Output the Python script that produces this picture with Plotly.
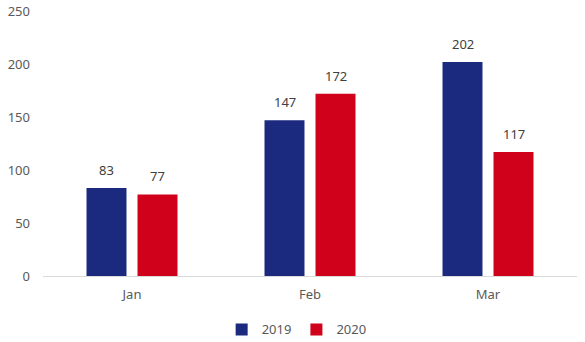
import plotly.graph_objects as go

months = ["Jan", "Feb", "Mar"]
s2019 = [83, 147, 202]
s2020 = [77, 172, 117]
series_names = ["2019", "2020"]
colors = ["#1B2A7E", "#D0021B"]
y_ticks = [0, 50, 100, 150, 200, 250]

fig = go.Figure()
for name, vals, col in zip(series_names, [s2019, s2020], colors):
    fig.add_trace(go.Bar(name=name, x=months, y=vals, marker_color=col,
                         marker_line_width=0))

for vals, xs in [(s2019, -25.5), (s2020, 25.5)]:
    for m, v in zip(months, vals):
        fig.add_annotation(x=m, y=v, text=str(v), showarrow=False,
                           xshift=xs, yshift=18,
                           font=dict(family="Noto Sans, sans-serif", size=13, color="#404040"))

fig.update_layout(
    width=585, height=342,
    margin=dict(l=43, r=8, t=11, b=66, autoexpand=False),
    paper_bgcolor="white", plot_bgcolor="white",
    barmode="group", bargap=0.427, bargroupgap=0.216,
    font=dict(family="Noto Sans, sans-serif", size=13, color="#595959"),
    showlegend=True,
    legend=dict(orientation="h", x=0.475, xanchor="center", y=-0.145, yanchor="top",
                font=dict(size=13, color="#595959"), itemwidth=30, traceorder="normal"),
    xaxis=dict(showgrid=False, showline=True, linecolor="#D9D9D9", linewidth=1,
               ticks="", ticklabelstandoff=6, tickfont=dict(size=13, color="#595959")),
    yaxis=dict(range=[0, 250], tickvals=y_ticks, showgrid=False, zeroline=False,
               showline=False, ticks="", ticklabelstandoff=12,
               tickfont=dict(size=13, color="#595959")),
)

fig.write_html("out.html")
